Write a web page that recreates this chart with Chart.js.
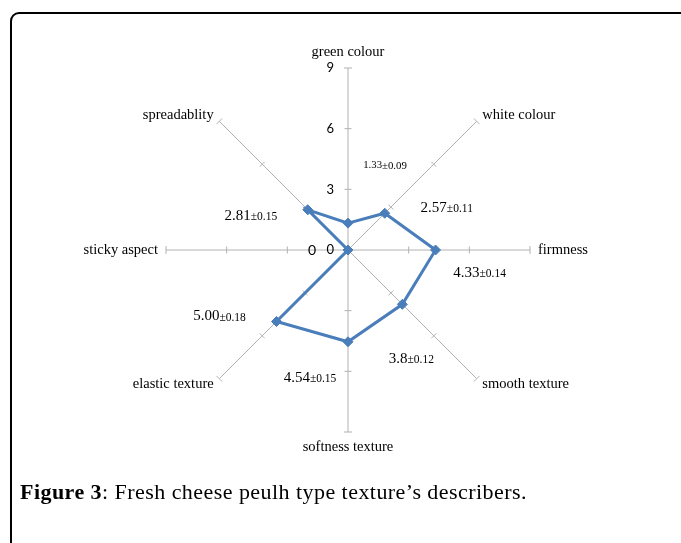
<!DOCTYPE html>
<html>
<head>
<meta charset="utf-8">
<script src="https://cdn.jsdelivr.net/npm/chart.js@4.4.0/dist/chart.umd.min.js"></script>
<style>
    html, body { margin: 0; padding: 0; background: #fff; }
    body { width: 681px; height: 543px; overflow: hidden; position: relative; }
    #frame {
        position: absolute; left: 10px; top: 12px; width: 700px; height: 560px;
        border: 2px solid #000; border-radius: 9px; box-sizing: border-box;
    }
    #wrap { position: absolute; left: 0; top: 0; width: 681px; height: 543px; }
    #caption {
        position: absolute; left: 20px; top: 479px; white-space: nowrap;
        font-family: "Liberation Serif", serif; font-size: 22px; letter-spacing: 0.45px; color: #000;
    }
</style>
</head>
<body>
<div id="frame"></div>
<div id="wrap"><canvas id="radar" width="681" height="543"></canvas></div>
<div id="caption"><b>Figure 3</b>: Fresh cheese peulh type texture’s describers.</div>
<script>
const axisNames = ['green colour', 'white colour', 'firmness', 'smooth texture',
    'softness texture', 'elastic texture', 'sticky aspect', 'spreadablity'];
const scores = [1.33, 2.57, 4.33, 3.8, 4.54, 5.00, 0, 2.81];
const scoreText = ['1.33', '2.57', '4.33', '3.8', '4.54', '5.00', '0', '2.81'];
const errText = ['±0.09', '±0.11', '±0.14', '±0.12', '±0.15', '±0.18', '', '±0.15'];
const tickValues = [0, 3, 6, 9];

//where each value label sits, relative to its marker
const labelShift = [[37, -58], [62, -5], [44, 23], [9, 55], [-38, 36], [-57, -5], [-36, 0], [-57, 6]];

const lineColor = '#4a7ebb';
const axisColor = '#b2b2b2';
const serif = '"Liberation Serif", "Times New Roman", serif';
const sans = 'Lato, "Open Sans", sans-serif';

const decor = {
    id: 'decor',
    beforeDatasetsDraw(chart) {
        const r = chart.scales.r;
        const ctx = chart.ctx;
        ctx.save();
        ctx.strokeStyle = axisColor;
        ctx.lineWidth = 1;
        //small cross ticks on every spoke
        axisNames.forEach((name, i) => {
            const a = r.getIndexAngle(i) - Math.PI / 2;
            const px = -Math.sin(a), py = Math.cos(a);
            tickValues.forEach(v => {
                if (v === 0) return;
                const p = r.getPointPositionForValue(i, v);
                const len = v === r.max ? 4 : 3.5;
                ctx.beginPath();
                ctx.moveTo(p.x - px * len, p.y - py * len);
                ctx.lineTo(p.x + px * len, p.y + py * len);
                ctx.stroke();
            });
        });
        //tick values along the top spoke
        ctx.fillStyle = '#000';
        ctx.font = '13px ' + sans;
        ctx.textAlign = 'right';
        ctx.textBaseline = 'middle';
        tickValues.forEach(v => {
            const p = r.getPointPositionForValue(0, v);
            ctx.fillText(String(v), p.x - 14, p.y);
        });
        //axis names
        ctx.font = '14.5px ' + serif;
        axisNames.forEach((name, i) => {
            const a = r.getIndexAngle(i);
            const s = Math.sin(a);
            const c = Math.cos(a);
            if (Math.abs(s) < 0.01) {
                const p = r.getPointPosition(i, r.drawingArea + 7);
                ctx.textAlign = 'center';
                ctx.textBaseline = c > 0 ? 'bottom' : 'top';
                ctx.fillText(name, p.x, p.y + (c > 0 ? -2 : 1));
            } else {
                const p = r.getPointPosition(i, r.drawingArea + 8);
                ctx.textAlign = s > 0 ? 'left' : 'right';
                ctx.textBaseline = 'middle';
                ctx.fillText(name, p.x, p.y);
            }
        });
        ctx.restore();
    },
    afterDatasetsDraw(chart) {
        const r = chart.scales.r;
        const ctx = chart.ctx;
        ctx.save();
        ctx.fillStyle = '#000';
        ctx.textBaseline = 'middle';
        ctx.textAlign = 'left';
        scores.forEach((v, i) => {
            const p = r.getPointPositionForValue(i, v);
            const cx = p.x + labelShift[i][0];
            const cy = p.y + labelShift[i][1];
            let bigFont, smallFont;
            if (i === 0) {
                bigFont = '10.8px ' + serif;
                smallFont = bigFont;
            } else if (!errText[i]) {
                bigFont = '14px ' + sans;
                smallFont = bigFont;
            } else {
                bigFont = '15px ' + serif;
                smallFont = '11.5px ' + serif;
            }
            ctx.font = bigFont;
            const w1 = ctx.measureText(scoreText[i]).width;
            ctx.font = smallFont;
            const w2 = ctx.measureText(errText[i]).width;
            const x0 = cx - (w1 + w2) / 2;
            ctx.font = bigFont;
            ctx.fillText(scoreText[i], x0, cy);
            ctx.font = smallFont;
            ctx.fillText(errText[i], x0 + w1, cy + 1);
        });
        ctx.restore();
    }
};

const chart = new Chart(document.getElementById('radar').getContext('2d'), {
    type: 'radar',
    data: {
        labels: axisNames,
        datasets: [{
            data: scores,
            borderColor: lineColor,
            borderWidth: 3,
            backgroundColor: lineColor,
            fill: false,
            pointStyle: 'rectRot',
            pointRadius: 5,
            pointBorderWidth: 1,
            pointBackgroundColor: lineColor,
            pointBorderColor: lineColor,
            tension: 0,
        }],
    },
    options: {
        responsive: false,
        animation: false,
        layout: {
            padding: {top: 68, bottom: 111, left: 15, right: 0},
        },
        plugins: {
            legend: {display: false},
            tooltip: {enabled: false},
        },
        scales: {
            r: {
                min: 0,
                max: 9,
                ticks: {stepSize: 3, display: false},
                grid: {display: false},
                angleLines: {display: true, color: axisColor, lineWidth: 1},
                pointLabels: {display: false},
            },
        },
    },
    plugins: [decor],
});
</script>
</body>
</html>
